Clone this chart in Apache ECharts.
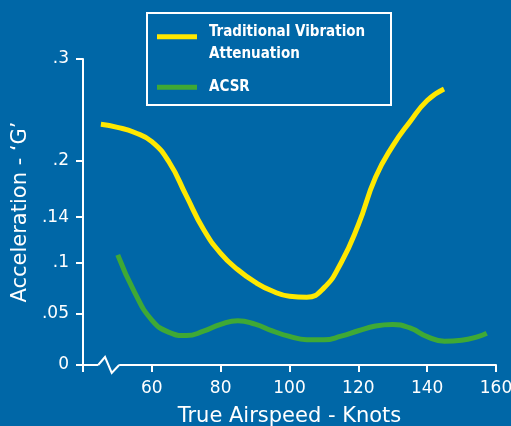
<!DOCTYPE html>
<html><head><meta charset="utf-8">
<script src="https://cdn.jsdelivr.net/npm/echarts@6/dist/echarts.min.js"></script>
<style>html,body{margin:0;padding:0;background:#0067a7}#c{width:511px;height:426px}</style>
</head><body><div id="c"></div>
<script>
const xLabelValues = [60, 80, 100, 120, 140, 160];
const xTickValues = [40, 60, 80, 100, 120, 140, 160];
const yTickValues = [0, 0.05, 0.1, 0.145, 0.2, 0.3];
const yTickLabels = ['0', '.05', '.1', '.14', '.2', '.3'];
const nameTraditional = 'Traditional Vibration Attenuation';
const nameACSR = 'ACSR';
const traditional = [
  [45.2, 0.236], [50, 0.233], [55, 0.228], [60, 0.219], [65, 0.199], [70, 0.166],
  [75, 0.133], [80, 0.1095], [85, 0.0934], [90, 0.0812], [95, 0.0725], [100, 0.0675],
  [105, 0.0665], [110, 0.0756], [115, 0.1003], [120, 0.1375], [125, 0.184],
  [130, 0.2148], [135, 0.2385], [140, 0.2593], [144.9, 0.2706]
];
const acsr = [
  [50.1, 0.108], [55, 0.0712], [60, 0.0441], [65, 0.032], [70, 0.0288], [75, 0.0331],
  [80, 0.0398], [85, 0.0434], [90, 0.040], [95, 0.0335], [100, 0.028], [105, 0.0248],
  [110, 0.0247], [115, 0.0283], [120, 0.0336], [125, 0.0382], [130, 0.0397],
  [135, 0.0363], [140, 0.0278], [145, 0.0234], [150, 0.0243], [155, 0.0281], [157.3, 0.0311]
];
const BG = '#0067a7';
const AXF = '"DejaVu Sans", sans-serif';
const LGF = '"Liberation Sans Narrow", "DejaVu Sans Condensed", sans-serif';
const chart = echarts.init(document.getElementById('c'));
const legendRich = {
  a: { color: '#fff', fontFamily: LGF, fontSize: 15, fontWeight: 'bold', lineHeight: 21.5, padding: [0, 0, 0, 7] },
  s: { fontSize: 1, lineHeight: 13 }
};
chart.setOption({
  backgroundColor: BG,
  animation: false,
  grid: { left: 83, right: 15, top: 59, bottom: 61, containLabel: false, outerBoundsMode: 'none' },
  legend: {
    orient: 'vertical', left: 157, top: 14.7, padding: 0, itemGap: 18.3,
    itemWidth: 40, itemHeight: 5, icon: 'rect',
    textStyle: { color: '#fff', rich: legendRich },
    formatter: function (n) {
      if (n === nameTraditional) return '{s| }\n{a|Traditional Vibration}\n{a|Attenuation}';
      return '{a|' + n + '}';
    },
    data: [nameTraditional, nameACSR]
  },
  xAxis: {
    type: 'value', min: 40, max: 160,
    name: 'True Airspeed - Knots', nameLocation: 'middle', nameGap: 41,
    nameTextStyle: { color: '#fff', fontFamily: AXF, fontSize: 21 },
    axisLine: { show: true, lineStyle: { color: '#fff', width: 2 } },
    axisTick: { show: true, length: 7, lineStyle: { color: '#fff', width: 2 }, customValues: xTickValues },
    axisLabel: { color: '#fff', fontFamily: AXF, fontSize: 17, margin: 15, customValues: xLabelValues },
    splitLine: { show: false }
  },
  yAxis: {
    type: 'value', min: 0, max: 0.3,
    name: 'Acceleration - \u2018G\u2019', nameLocation: 'middle', nameGap: 50,
    nameTextStyle: { color: '#fff', fontFamily: AXF, fontSize: 21 },
    axisLine: { show: true, lineStyle: { color: '#fff', width: 2 } },
    axisTick: { show: true, length: 7, lineStyle: { color: '#fff', width: 2 }, customValues: yTickValues },
    axisLabel: {
      color: '#fff', fontFamily: AXF, fontSize: 17, margin: 14, customValues: yTickValues,
      formatter: function (v) {
        for (let i = 0; i < yTickValues.length; i++) if (Math.abs(yTickValues[i] - v) < 1e-6) return yTickLabels[i];
        return '';
      }
    },
    splitLine: { show: false }
  },
  series: [
    { name: nameTraditional, type: 'line', data: traditional, smooth: 0.5, symbol: 'none',
      lineStyle: { color: '#ffe800', width: 5 }, itemStyle: { color: '#ffe800' } },
    { name: nameACSR, type: 'line', data: acsr, smooth: 0.5, symbol: 'none',
      lineStyle: { color: '#3fa935', width: 5 }, itemStyle: { color: '#3fa935' } }
  ]
});
function px(x, y) { return chart.convertToPixel({ xAxisIndex: 0, yAxisIndex: 0 }, [x, y]); }
const a = px(44.4, 0), b = px(50.5, 0), p1 = px(46.4, 0), p2 = px(48.35, 0);
chart.setOption({
  graphic: [
    { type: 'rect', shape: { x: 147, y: 13, width: 244, height: 92 }, style: { fill: null, stroke: '#fff', lineWidth: 2 }, z: 10 },
    { type: 'rect', shape: { x: a[0], y: a[1] - 2, width: b[0] - a[0], height: 4 }, style: { fill: BG }, z: 10 },
    { type: 'polyline', shape: { points: [[a[0], a[1]], [p1[0], a[1] - 8], [p2[0], a[1] + 8], [b[0], b[1]]] },
      style: { stroke: '#fff', lineWidth: 2, fill: null }, z: 11 }
  ]
});
</script></body></html>
